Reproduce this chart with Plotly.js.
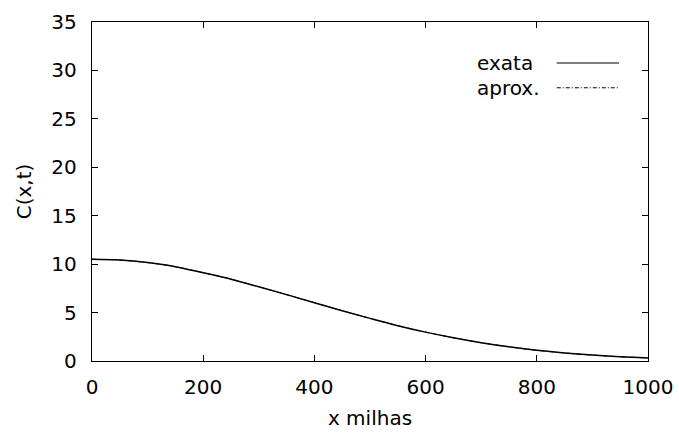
<!DOCTYPE html>
<html>
<head>
<meta charset="utf-8">
<script src="https://cdn.plot.ly/plotly-3.0.1.min.js"></script>
<style>html,body{margin:0;padding:0;background:#fff;}#chart{width:679px;height:435px;}</style>
</head>
<body>
<div id="chart"></div>
<script>
// Data
const xMiles = [0, 50, 100, 150, 200, 250, 300, 350, 400, 450, 500, 550, 600, 650, 700, 750, 800, 850, 900, 950, 1000];
const cExata = [10.50, 10.42, 10.16, 9.74, 9.11, 8.45, 7.66, 6.85, 6.02, 5.19, 4.40, 3.65, 2.98, 2.40, 1.89, 1.46, 1.11, 0.83, 0.61, 0.44, 0.32];
const cAprox = [10.50, 10.42, 10.16, 9.74, 9.11, 8.45, 7.66, 6.85, 6.02, 5.19, 4.40, 3.65, 2.98, 2.40, 1.89, 1.46, 1.11, 0.83, 0.61, 0.44, 0.32];
const seriesNames = ["exata", "aprox."];
const xTicks = [0, 200, 400, 600, 800, 1000];
const yTicks = [0, 5, 10, 15, 20, 25, 30, 35];

const font = {family: "DejaVu Sans, sans-serif", size: 20, color: "#000"};

const traces = [
  {x: xMiles, y: cExata, name: seriesNames[0], type: "scatter", mode: "lines",
   line: {color: "#000", width: 1.5, shape: "spline"}, showlegend: false},
  {x: xMiles, y: cAprox, name: seriesNames[1], type: "scatter", mode: "lines",
   line: {color: "#000", width: 1, dash: "4px,2px,1px,2px", shape: "spline"}, showlegend: false}
];

const axisCommon = {
  showgrid: false, zeroline: false, showline: true, linecolor: "#000", linewidth: 1.3,
  mirror: "allticks", ticks: "inside", ticklen: 6, tickwidth: 1, tickcolor: "#000",
  tickfont: font
};

const layout = {
  width: 679, height: 435,
  margin: {l: 92, r: 31, t: 22, b: 74},
  paper_bgcolor: "#fff", plot_bgcolor: "#fff",
  font: font,
  xaxis: Object.assign({}, axisCommon, {
    range: [0, 1000], tickvals: xTicks, ticktext: xTicks.map(String),
    ticklabelstandoff: 8,
    title: {text: "x milhas", font: font, standoff: 12}
  }),
  yaxis: Object.assign({}, axisCommon, {
    range: [0, 35], tickvals: yTicks, ticktext: yTicks.map(String),
    ticklabelstandoff: 10,
    title: {text: "C(x,t)", font: font, standoff: 14}
  }),
  annotations: [
    {xref: "paper", yref: "paper", x: 0.797, y: 0.879, xanchor: "right", yanchor: "middle",
     text: seriesNames[0], showarrow: false, font: font},
    {xref: "paper", yref: "paper", x: 0.810, y: 0.806, xanchor: "right", yanchor: "middle",
     text: seriesNames[1], showarrow: false, font: font}
  ],
  shapes: [
    {type: "line", xref: "paper", yref: "paper", x0: 0.836, x1: 0.948, y0: 0.879, y1: 0.879,
     line: {color: "#000", width: 1.2}},
    {type: "line", xref: "paper", yref: "paper", x0: 0.836, x1: 0.948, y0: 0.806, y1: 0.806,
     line: {color: "#000", width: 1, dash: "4px,2px,1px,2px"}}
  ]
};

Plotly.newPlot("chart", traces, layout, {displayModeBar: false, staticPlot: true});
</script>
</body>
</html>
